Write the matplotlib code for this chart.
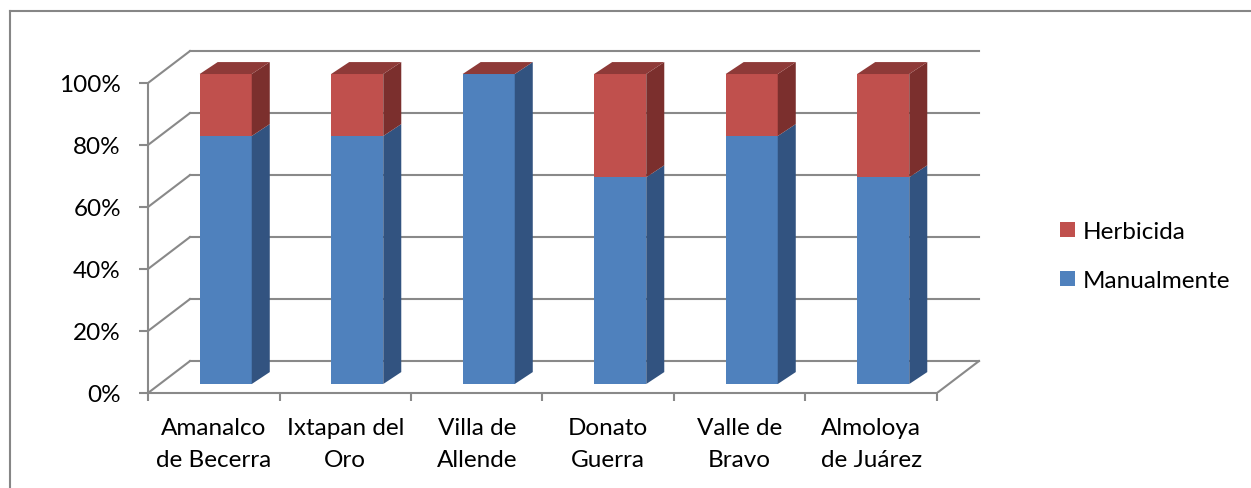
import matplotlib.pyplot as plt
import numpy as np
from matplotlib.patches import Polygon, Patch
from matplotlib.lines import Line2D

plt.rcParams['font.family'] = ['Lato', 'DejaVu Sans']

municipios = ['Amanalco\nde Becerra', 'Ixtapan del\nOro', 'Villa de\nAllende',
              'Donato\nGuerra', 'Valle de\nBravo', 'Almoloya\nde Juárez']
manualmente = [80, 80, 100, 66.7, 80, 66.7]
herbicida = [20, 20, 0, 33.3, 20, 33.3]
yticks = [0, 20, 40, 60, 80, 100]
ylabels = ['0%', '20%', '40%', '60%', '80%', '100%']

# colores (frente, lado, tapa)
azul = ('#4F81BD', '#325380', '#3E6696')
rojo = ('#C0504D', '#7B2F2D', '#8E3A38')
gris = '#898989'

# profundidad 3D en unidades de datos
DX, DY = 0.319, 10.3    # pared del fondo
BX, BY = 0.091, 2.9     # cara frontal de las barras
SX, SY = 0.137, 3.85    # lado de las barras
HW = 0.198              # media anchura de barra

fig = plt.figure(figsize=(12.51, 4.89), dpi=100)
ax = fig.add_axes([148/1251, (489-394)/489, 852/1251, 354/489])
ax.set_xlim(0, 852/131.5)
ax.set_ylim(0, 354/3.10)

# pared del fondo y lateral
for v in yticks:
    ax.plot([DX, 6+DX], [v+DY, v+DY], color=gris, lw=1.5, zorder=1)
    ax.plot([0, DX], [v, v+DY], color=gris, lw=1.5, zorder=1)
ax.plot([6, 6+DX], [0, DY], color=gris, lw=1.5, zorder=1)

def barra(i, b, t, col, tapa=False):
    cx = i + 0.5 + BX
    x0, x1 = cx - HW, cx + HW
    y0, y1 = b + BY, t + BY
    ax.add_patch(Polygon([(x0, y0), (x1, y0), (x1, y1), (x0, y1)], closed=True,
                         fc=col[0], ec='none', zorder=3))
    ax.add_patch(Polygon([(x1, y0), (x1+SX, y0+SY), (x1+SX, y1+SY), (x1, y1)], closed=True,
                         fc=col[1], ec='none', zorder=3))
    if tapa:
        ax.add_patch(Polygon([(x0, y1), (x0+SX, y1+SY), (x1+SX, y1+SY), (x1, y1)], closed=True,
                             fc=col[2], ec='none', zorder=4))

for i in range(len(municipios)):
    barra(i, 0, manualmente[i], azul)
    barra(i, manualmente[i], manualmente[i] + herbicida[i], rojo, tapa=True)

# ejes
for s in ['top', 'right']:
    ax.spines[s].set_visible(False)
for s in ['left', 'bottom']:
    ax.spines[s].set_color(gris)
    ax.spines[s].set_linewidth(1.5)
ax.spines['left'].set_bounds(0, 100)
ax.spines['bottom'].set_bounds(0, 6)
ax.set_yticks(yticks, ylabels)
ax.set_xticks(range(7), [''] * 7)
ax.set_xticks(np.arange(6) + 0.5, municipios, minor=True)
ax.tick_params(axis='y', length=6.5, width=1.5, color=gris, pad=13, labelsize=17.5)
ax.tick_params(axis='x', which='major', length=6, width=1.5, color=gris)
ax.tick_params(axis='x', which='minor', length=0, pad=17, labelsize=17.5)
for t in ax.get_xticklabels(minor=True):
    t.set_linespacing(1.68)

# leyenda
fig.legend(handles=[Patch(fc=rojo[0]), Patch(fc=azul[0])],
           labels=['Herbicida', 'Manualmente'], loc='upper left',
           bbox_to_anchor=(1060/1251, 1 - 222/489), frameon=False,
           fontsize=17.5, handlelength=0.62, handleheight=0.62,
           handletextpad=0.3, labelspacing=1.15, borderpad=0, borderaxespad=0)

# borde del grafico
fig.add_artist(Line2D([10/1251, 10/1251], [0, 1 - 12/489], color='#868686', lw=1.5))
fig.add_artist(Line2D([10/1251, 1], [1 - 12/489, 1 - 12/489], color='#868686', lw=1.5))

fig.savefig('out.png', dpi=100)
